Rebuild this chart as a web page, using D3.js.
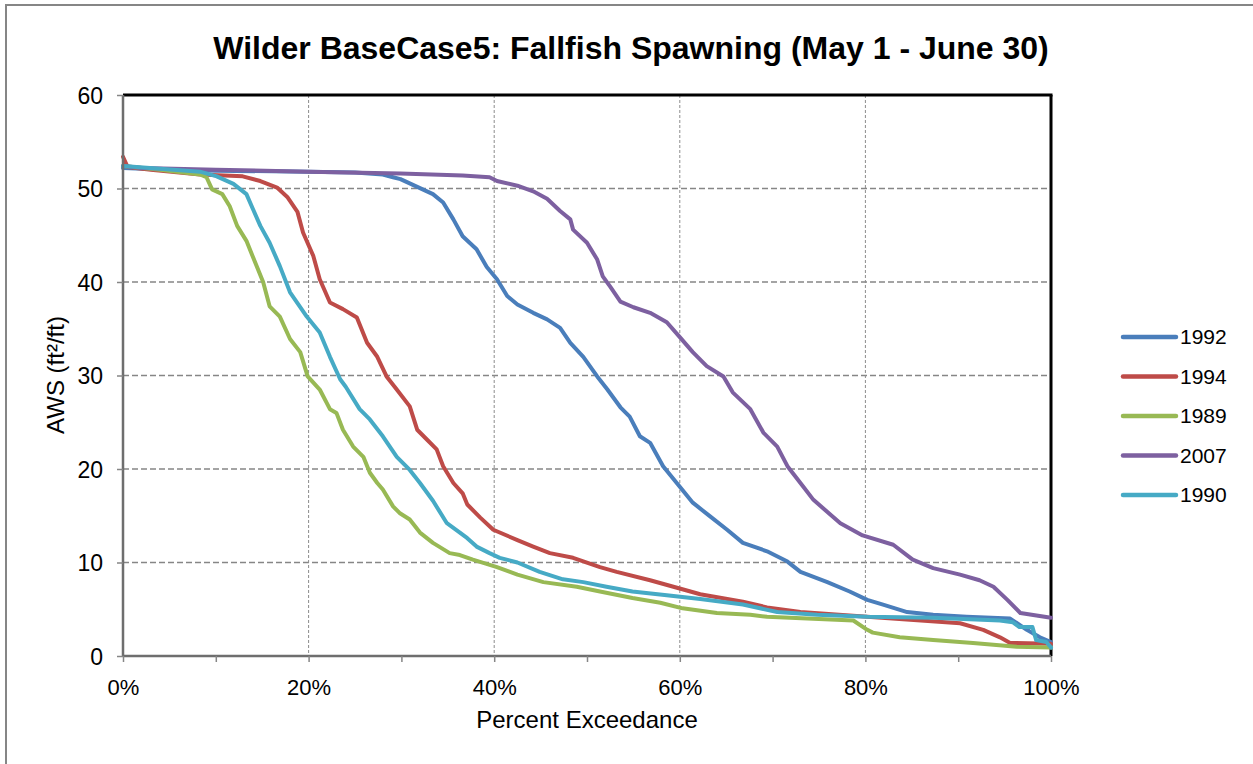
<!DOCTYPE html>
<html>
<head>
<meta charset="utf-8">
<script src="https://cdn.jsdelivr.net/npm/d3@7"></script>
<style>
html,body{margin:0;padding:0;background:#fff;}
svg{display:block;font-family:"Liberation Sans",Arial,sans-serif;}
</style>
</head>
<body>
<svg id="chart" width="1253" height="764"></svg>
<script>
// ---- Data (percent exceedance, AWS ft2/ft) ----
const seriesNames = ["1992", "1994", "1989", "2007", "1990"];
const seriesColors = ["#4A7EBB", "#BE4B48", "#98B954", "#7D60A0", "#46AAC5"];

const pct1992 = [0,5,10,20,25,28,29.1,29.9,33.4,34.5,35.6,36.6,38.1,39.2,40.3,41.4,42.5,44.2,45.7,47.1,48.2,49.6,51.1,52.2,53.6,54.6,55.7,56.8,58.2,60.0,61.4,63.3,65.1,66.8,69.4,71.6,73.0,75.9,78.3,80.2,81.9,84.5,87.3,90.9,95.6,97.4,98.8,100];
const aws1992 = [52.2,52.0,51.9,51.8,51.7,51.5,51.2,51.0,49.4,48.5,46.7,44.9,43.5,41.6,40.3,38.5,37.6,36.7,36.0,35.1,33.5,32.0,29.9,28.5,26.6,25.6,23.5,22.8,20.3,18.1,16.4,14.9,13.5,12.1,11.2,10.1,9.0,7.9,6.9,6.0,5.5,4.7,4.4,4.2,4.0,2.8,2.0,1.5];

const pct1994 = [0,0.5,3,8.3,12.9,14.8,16.6,17.7,18.8,19.4,20.5,21.2,22.3,23.7,25.2,26.3,27.4,28.4,29.5,30.9,31.7,32.8,33.8,34.5,35.6,36.6,37.1,38.5,39.9,42.5,44.2,46.0,48.5,51.4,53.2,56.8,59.7,62.2,66.8,69.4,73.0,80.2,90.2,92.7,94.5,95.6,100];
const aws1994 = [53.4,52.3,52.0,51.5,51.3,50.8,50.1,49.1,47.5,45.3,42.8,40.3,37.8,37.1,36.2,33.5,32.0,29.9,28.5,26.7,24.2,23.1,22.1,20.3,18.5,17.4,16.2,14.8,13.5,12.4,11.7,11.0,10.5,9.5,9.0,8.1,7.3,6.6,5.8,5.2,4.7,4.2,3.5,2.8,2.0,1.4,1.3];

const pct1989 = [0,4,8.3,9.0,9.6,10.7,11.5,12.3,13.3,14.4,15.1,15.8,16.9,18.0,19.1,19.9,21.2,22.3,23.0,23.7,24.8,25.9,26.6,27.4,28.0,29.1,29.8,30.9,32.0,33.4,35.2,36.3,37.7,40.3,42.5,45.3,48.9,51.4,54.9,57.9,60.3,64.0,67.6,69.4,78.7,80.2,80.8,83.7,87.3,91.6,96.3,100];
const aws1989 = [52.4,52.0,51.5,51.2,49.9,49.4,48.1,46.0,44.4,41.7,40.0,37.4,36.3,33.9,32.5,29.9,28.5,26.4,26.0,24.2,22.4,21.3,19.6,18.5,17.8,16.0,15.3,14.6,13.2,12.1,11.0,10.8,10.3,9.5,8.7,7.9,7.4,6.9,6.2,5.7,5.1,4.6,4.4,4.2,3.8,2.8,2.5,2.0,1.7,1.4,1.0,0.9];

const pct2007 = [0,2,10,20,29.9,36.6,39.5,40.3,42.5,44.2,45.7,47.1,48.2,48.5,50.0,51.1,51.7,52.5,53.6,55.0,56.8,58.6,60.0,61.4,62.9,64.7,65.7,67.6,69.0,70.5,71.6,73.0,74.4,77.3,79.7,83.0,85.1,87.3,90.2,92.3,93.8,95.3,96.7,100];
const aws2007 = [52.4,52.2,52.0,51.8,51.6,51.4,51.2,50.8,50.3,49.7,48.9,47.6,46.7,45.6,44.2,42.4,40.6,39.5,37.9,37.3,36.7,35.7,34.1,32.5,31.0,29.9,28.2,26.4,23.9,22.4,20.3,18.5,16.7,14.2,12.9,11.9,10.3,9.4,8.7,8.1,7.4,6.0,4.6,4.1];

const pct1990 = [0,4,8.3,10.1,11.9,13.3,14.0,14.8,15.8,16.9,18.0,19.8,21.2,22.3,23.4,24.0,25.5,26.6,28.0,29.5,30.9,32.0,33.4,34.9,36.3,37.1,38.1,39.5,40.6,42.5,44.9,47.4,49.6,52.1,54.9,58.6,62.2,66.8,70.5,74.8,80.2,87.3,94.5,95.9,96.6,98.0,98.4,99.5,100];
const aws1990 = [52.4,52.1,51.8,51.3,50.5,49.4,47.8,46.0,44.2,41.7,38.9,36.3,34.6,32.0,29.6,28.8,26.4,25.3,23.5,21.3,19.9,18.5,16.6,14.2,13.2,12.6,11.7,11.0,10.5,10.0,9.0,8.2,7.9,7.4,6.9,6.5,6.1,5.5,4.7,4.4,4.2,4.1,3.8,3.6,3.1,3.1,1.7,1.5,0.9];

const xTickValues = [0,20,40,60,80,100];
const yTickValues = [0,10,20,30,40,50,60];
const titleText = "Wilder BaseCase5: Fallfish Spawning (May 1 - June 30)";
const xLabel = "Percent Exceedance";
const yLabel = "AWS (ft\u00B2/ft)";

const seriesX = [pct1992, pct1994, pct1989, pct2007, pct1990];
const seriesY = [aws1992, aws1994, aws1989, aws2007, aws1990];

// ---- Layout ----
const svg = d3.select("#chart");
const L = 123, R = 1051, T = 95, B = 656;
const x = d3.scaleLinear().domain([0,100]).range([L,R]);
const y = d3.scaleLinear().domain([0,60]).range([B,T]);

// outer chart border
svg.append("rect").attr("x",6).attr("y",5).attr("width",1300).attr("height",900)
  .attr("fill","#fff").attr("stroke","#868686").attr("stroke-width",2);

// title
svg.append("text").attr("x",631).attr("y",59).attr("text-anchor","middle")
  .attr("font-size",32).attr("font-weight","bold").attr("fill","#000").text(titleText);

// gridlines
const g = svg.append("g");
g.selectAll("line.hg").data(yTickValues.filter(v=>v>0 && v<60)).enter().append("line")
  .attr("x1",L).attr("x2",R).attr("y1",d=>y(d)).attr("y2",d=>y(d))
  .attr("stroke","#868686").attr("stroke-width",1.5).attr("stroke-dasharray","6,3");
g.selectAll("line.vg").data(xTickValues.filter(v=>v>0 && v<100)).enter().append("line")
  .attr("x1",d=>x(d)).attr("x2",d=>x(d)).attr("y1",T).attr("y2",B)
  .attr("stroke","#8c8c8c").attr("stroke-width",1).attr("stroke-dasharray","3,2");

// plot border (top/right black)
svg.append("line").attr("x1",L).attr("x2",R+1.5).attr("y1",T).attr("y2",T).attr("stroke","#000").attr("stroke-width",3);
svg.append("line").attr("x1",R).attr("x2",R).attr("y1",T).attr("y2",B).attr("stroke","#000").attr("stroke-width",3);

// series
const line = d3.line().x(d=>x(d[0])).y(d=>y(d[1]));
seriesNames.forEach((name,i)=>{
  const pts = seriesX[i].map((p,j)=>[p, seriesY[i][j]]);
  svg.append("path").datum(pts).attr("d",line).attr("fill","none")
    .attr("stroke",seriesColors[i]).attr("stroke-width",4)
    .attr("stroke-linejoin","round").attr("stroke-linecap","round");
});

// axes
const xAxis = d3.axisBottom(x).tickValues(d3.range(0,101,10)).tickSize(6).tickFormat(d=> d%20===0 ? d+"%" : "");
const yAxis = d3.axisLeft(y).tickValues(yTickValues).tickSize(6).tickFormat(d=>d);
const gx = svg.append("g").attr("transform",`translate(0,${B})`).call(xAxis);
const gy = svg.append("g").attr("transform",`translate(${L},0)`).call(yAxis);
[gx,gy].forEach(ax=>{
  ax.select(".domain").attr("stroke","#6e6e6e").attr("stroke-width",2.5);
  ax.selectAll(".tick line").attr("stroke","#868686").attr("stroke-width",1.5);
  ax.selectAll("text").attr("font-size",22).attr("fill","#000").attr("font-family","Liberation Sans, Arial, sans-serif");
});
gy.selectAll("text").attr("font-size",23);
gx.selectAll("text").attr("dy","0.71em").attr("y",23);
gy.selectAll("text").attr("x",-20).attr("dy","0.35em");
gx.select(".domain").attr("d",`M${L},0H${R}`);
gy.select(".domain").attr("d",`M0,${T}V${B}`);

// axis titles
svg.append("text").attr("x",587).attr("y",728).attr("text-anchor","middle")
  .attr("font-size",24).attr("fill","#000").text(xLabel);
svg.append("text").attr("transform",`translate(64,375) rotate(-90)`).attr("text-anchor","middle")
  .attr("font-size",24).attr("fill","#000").text(yLabel);

// legend
const leg = svg.append("g");
seriesNames.forEach((name,i)=>{
  const yy = 337 + i*39.5;
  leg.append("line").attr("x1",1123).attr("x2",1176).attr("y1",yy).attr("y2",yy)
    .attr("stroke",seriesColors[i]).attr("stroke-width",4.5).attr("stroke-linecap","round");
  leg.append("text").attr("x",1180).attr("y",yy).attr("dy","0.35em")
    .attr("font-size",21).attr("fill","#000").text(name);
});
</script>
</body>
</html>
